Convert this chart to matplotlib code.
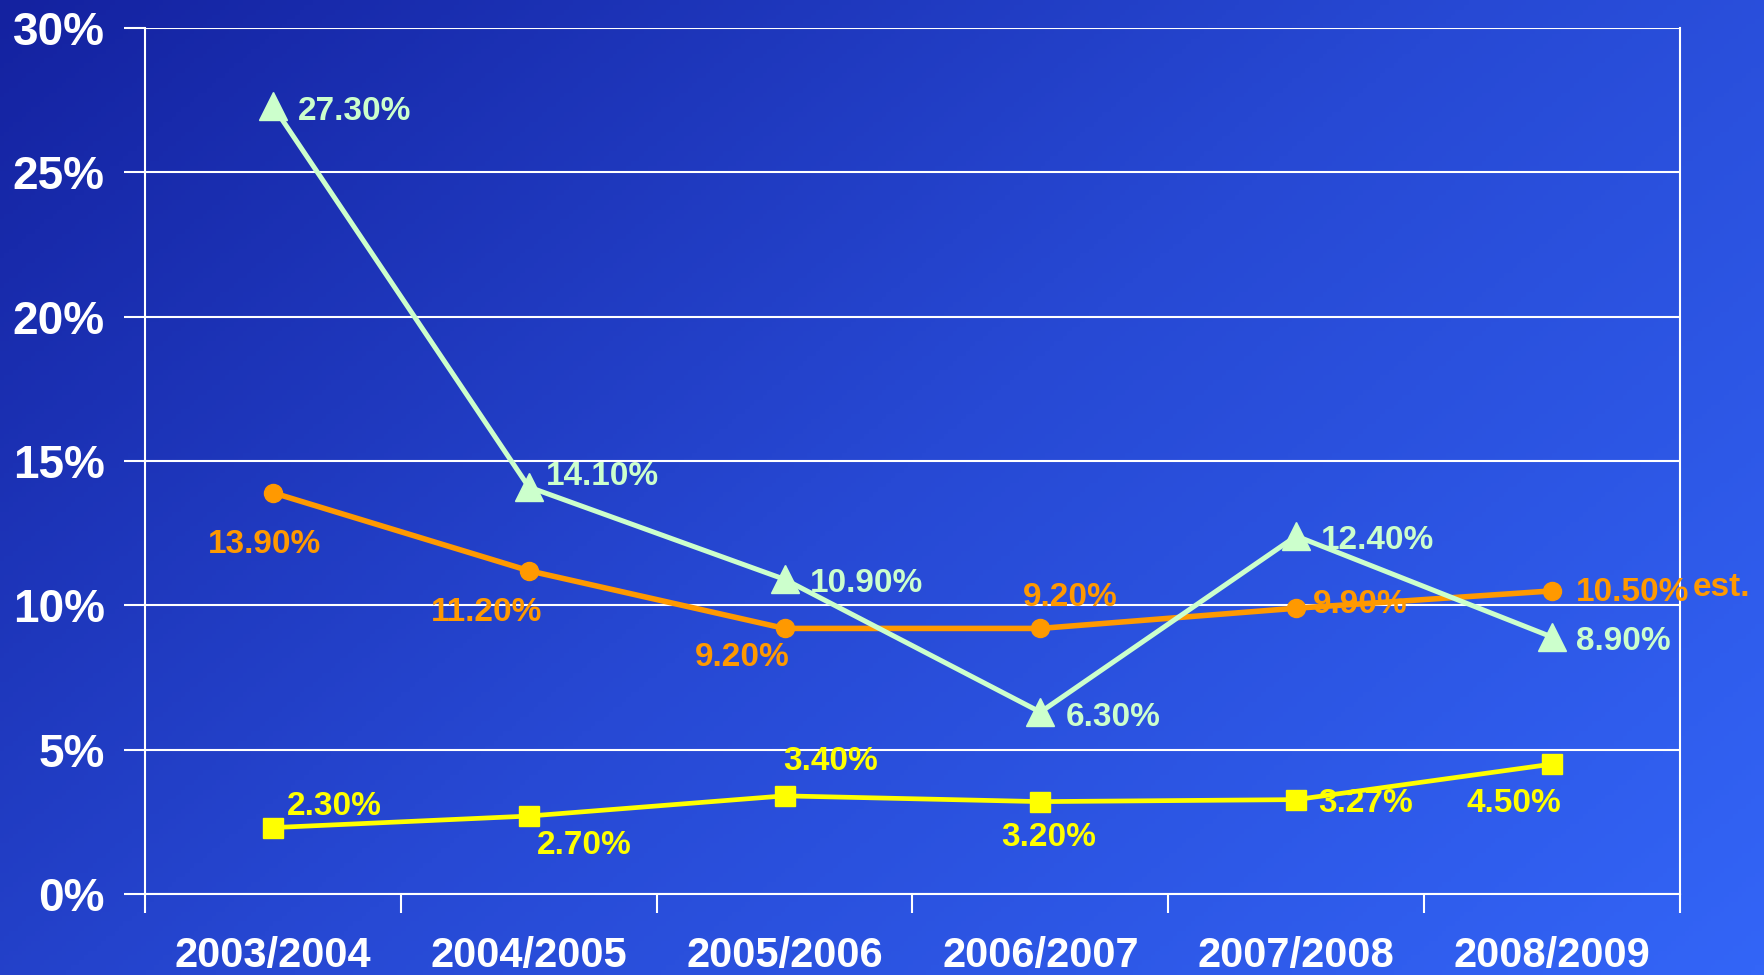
import numpy as np
import matplotlib
matplotlib.use("Agg")
import matplotlib.pyplot as plt
from matplotlib.colors import LinearSegmentedColormap

years = ["2003/2004", "2004/2005", "2005/2006", "2006/2007", "2007/2008", "2008/2009"]
green_vals = [27.3, 14.1, 10.9, 6.3, 12.4, 8.9]
orange_vals = [13.9, 11.2, 9.2, 9.2, 9.9, 10.5]
yellow_vals = [2.3, 2.7, 3.4, 3.2, 3.27, 4.5]
green_labels = ["27.30%", "14.10%", "10.90%", "6.30%", "12.40%", "8.90%"]
orange_labels = ["13.90%", "11.20%", "9.20%", "9.20%", "9.90%", "10.50%"]
yellow_labels = ["2.30%", "2.70%", "3.40%", "3.20%", "3.27%", "4.50%"]
yticks = [0, 5, 10, 15, 20, 25, 30]

GREEN = "#ccffcc"
ORANGE = "#ff9900"
YELLOW = "#ffff00"

plt.rcParams["font.family"] = ["Liberation Sans", "DejaVu Sans"]

fig = plt.figure(figsize=(17.64, 9.75), dpi=100)

# diagonal gradient background
bg = fig.add_axes([0, 0, 1, 1], zorder=-10)
gx, gy = np.meshgrid(np.linspace(0, 1, 400), np.linspace(0, 1, 200))
grad = 0.6 * gx + 0.4 * gy
cmap = LinearSegmentedColormap.from_list("bg", ["#1422a0", "#2749d4", "#3365f7"])
bg.imshow(grad, cmap=cmap, aspect="auto", extent=[0, 1, 0, 1], origin="upper")
bg.axis("off")

ax = fig.add_axes([145 / 1764, 81 / 975, 1535 / 1764, 866 / 975])
ax.set_facecolor("none")
x = np.arange(len(years))

ax.plot(x, orange_vals, color=ORANGE, lw=4.0, marker="o", ms=13, zorder=3)
ax.plot(x, yellow_vals, color=YELLOW, lw=3.4, marker="s", ms=14, zorder=3)
ax.plot(x, green_vals, color=GREEN, lw=3.6, marker="^", ms=20, zorder=4)

ax.set_xlim(-0.5, 5.5)
ax.set_ylim(0, 30)

# label offsets in pixels
green_off = [(25, -6), (17, 10), (25, -4), (25, -5), (25, -4), (24, -4)]
orange_off = [(-8, -52), (-42, -42), (-42, -29), (30, 31), (64, 4), (80, -2)]
yellow_off = [(61, 21), (55, -29), (46, 34), (8, -36), (69, -4), (-38, -39)]

for i in range(len(years)):
    ax.annotate(green_labels[i], (x[i], green_vals[i]), xytext=green_off[i],
                textcoords="offset pixels", ha="left", va="center",
                color=GREEN, fontsize=24, fontweight="bold", zorder=6)
    ax.annotate(orange_labels[i], (x[i], orange_vals[i]), xytext=orange_off[i],
                textcoords="offset pixels", ha="center", va="center",
                color=ORANGE, fontsize=24, fontweight="bold", zorder=6)
    ax.annotate(yellow_labels[i], (x[i], yellow_vals[i]), xytext=yellow_off[i],
                textcoords="offset pixels", ha="center", va="center",
                color=YELLOW, fontsize=24, fontweight="bold", zorder=6)

fig.text(1693 / 1764, 1 - 587 / 975, "est.", color=ORANGE, fontsize=24,
         fontweight="bold", ha="left", va="center")

# axes styling
ax.set_yticks(yticks)
ax.set_yticklabels([f"{v}%" for v in yticks], fontsize=33, fontweight="bold", color="white")
ax.tick_params(axis="y", length=15, width=1.5, color="white", pad=14)
ax.yaxis.grid(True, color="white", lw=1.5)
ax.set_axisbelow(True)

ax.set_xticks(np.arange(-0.5, 6.0, 1.0))
ax.set_xticklabels([])
ax.tick_params(axis="x", which="major", length=14, width=1.5, color="white")
ax.set_xticks(x, minor=True)
ax.set_xticklabels(years, minor=True, fontsize=30, fontweight="bold", color="white")
ax.tick_params(axis="x", which="minor", length=0, pad=30)

for side in ["left", "right", "bottom"]:
    ax.spines[side].set_color("white")
    ax.spines[side].set_linewidth(1.5)
ax.spines["top"].set_visible(False)

fig.savefig("out.png", dpi=100)
